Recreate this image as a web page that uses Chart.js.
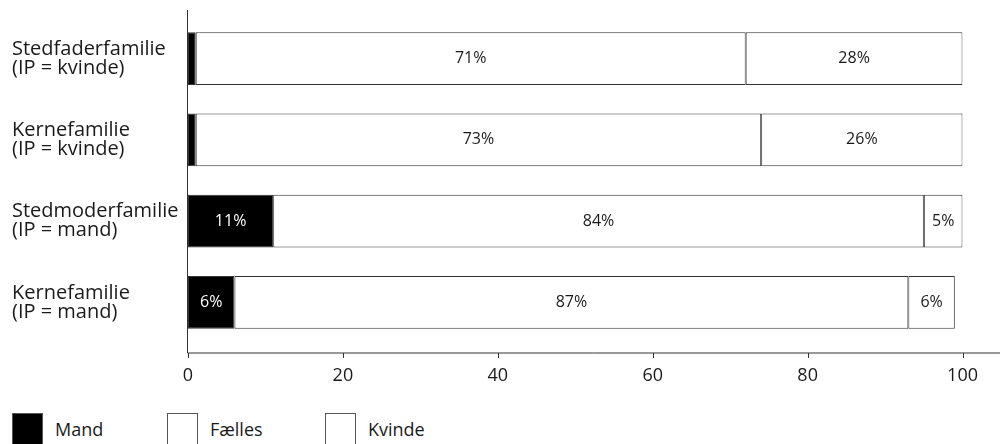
<!DOCTYPE html>
<html>
<head>
<meta charset="utf-8">
<script src="https://cdn.jsdelivr.net/npm/chart.js@4/dist/chart.umd.min.js"></script>
<style>
    body { margin: 0; background: #fff; font-family: "Open Sans", sans-serif; }
    #wrap { position: relative; width: 1000px; height: 444px; overflow: hidden; }
    #chartBox { position: absolute; left: 0; top: 0; width: 1000px; height: 400px; }
    .legend { position: absolute; top: 413px; left: 0; width: 1000px; }
    .item { position: absolute; top: 0; height: 40px; font-size: 18px; color: #1a1a1a; }
    .box { position: absolute; left: 0; top: 0; width: 31px; height: 36px; border: 1px solid #555; box-sizing: border-box; }
    .item span { position: absolute; left: 43px; top: 4px; white-space: nowrap; }
</style>
</head>
<body>
<div id="wrap">
    <div id="chartBox"><canvas id="familyChart"></canvas></div>
    <div class="legend" id="legend"></div>
</div>
<script>
// categories and shares (in %)
const categories = [
    ['Stedfaderfamilie', '(IP = kvinde)'],
    ['Kernefamilie', '(IP = kvinde)'],
    ['Stedmoderfamilie', '(IP = mand)'],
    ['Kernefamilie', '(IP = mand)']
];
const mand = [1, 1, 11, 6];
const faelles = [71, 73, 84, 87];
const kvinde = [28, 26, 5, 6];
const xTicks = [0, 20, 40, 60, 80, 100];

const seriesNames = ['Mand', 'Fælles', 'Kvinde'];
const seriesFill = ['#000000', '#ffffff', '#ffffff'];
const legendLeft = [12, 167, 325];

// percent labels inside the segments
const segmentLabels = {
    id: 'segmentLabels',
    afterDatasetsDraw(chart) {
        const ctx = chart.ctx;
        ctx.save();
        ctx.font = '16px "Open Sans"';
        ctx.textAlign = 'center';
        ctx.textBaseline = 'middle';
        chart.data.datasets.forEach((ds, i) => {
            const meta = chart.getDatasetMeta(i);
            meta.data.forEach((bar, j) => {
                const v = ds.data[j];
                if (v < 3) return;
                const p = bar.getProps(['x', 'base', 'y'], true);
                ctx.fillStyle = i === 0 ? '#fff' : '#1a1a1a';
                ctx.fillText(v + '%', (p.x + p.base) / 2, p.y);
            });
        });
        ctx.restore();
    }
};

// axis lines sit a bit below the plot, as in the printed figure
const axisLines = {
    id: 'axisLines',
    afterDraw(chart) {
        const ctx = chart.ctx;
        const xs = chart.scales.x;
        const axisY = chart.chartArea.bottom + 10;
        const x0 = xs.getPixelForValue(0) - 0.5;
        ctx.save();
        ctx.strokeStyle = '#333';
        ctx.lineWidth = 1;
        ctx.beginPath();
        ctx.moveTo(x0, 10);
        ctx.lineTo(x0, axisY);
        ctx.lineTo(chart.width, axisY);
        xTicks.forEach(t => {
            const px = Math.round(xs.getPixelForValue(t)) + 0.5;
            ctx.moveTo(px, axisY);
            ctx.lineTo(px, axisY + 5);
        });
        ctx.stroke();
        ctx.restore();
    }
};

const ctx = document.getElementById('familyChart').getContext('2d');

new Chart(ctx, {
    type: 'bar',
    data: {
        labels: categories,
        datasets: [mand, faelles, kvinde].map((d, i) => ({
            label: seriesNames[i],
            data: d,
            backgroundColor: seriesFill[i],
            borderColor: '#333',
            borderWidth: 1,
            borderSkipped: false,
            barPercentage: 0.65,
            categoryPercentage: 1
        }))
    },
    options: {
        indexAxis: 'y',
        responsive: true,
        maintainAspectRatio: false,
        animation: false,
        layout: { padding: { left: 12, right: 35, top: 18, bottom: 0 } },
        plugins: {
            legend: { display: false },
            tooltip: { enabled: false }
        },
        scales: {
            x: {
                stacked: true,
                min: 0,
                max: 100,
                afterBuildTicks: s => { s.ticks = xTicks.map(v => ({ value: v })); },
                afterFit: s => { s.height = 57; },
                grid: { display: false, drawTicks: false },
                border: { display: false },
                ticks: { padding: 22, color: '#1a1a1a', font: { family: 'Open Sans', size: 18 } }
            },
            y: {
                stacked: true,
                afterFit: s => { s.width = 176; s.paddingTop = 0; s.paddingBottom = 0; },
                grid: { display: false, drawTicks: false },
                border: { display: false },
                ticks: {
                    crossAlign: 'far',
                    color: '#1a1a1a',
                    font: { family: 'Open Sans', size: 20, lineHeight: 0.95 }
                }
            }
        }
    },
    plugins: [segmentLabels, axisLines]
});

// legend
const legend = document.getElementById('legend');
seriesNames.forEach((name, i) => {
    const item = document.createElement('div');
    item.className = 'item';
    item.style.left = legendLeft[i] + 'px';
    item.innerHTML = '<div class="box" style="background:' + seriesFill[i] + '"></div><span>' + name + '</span>';
    legend.appendChild(item);
});
</script>
</body>
</html>
